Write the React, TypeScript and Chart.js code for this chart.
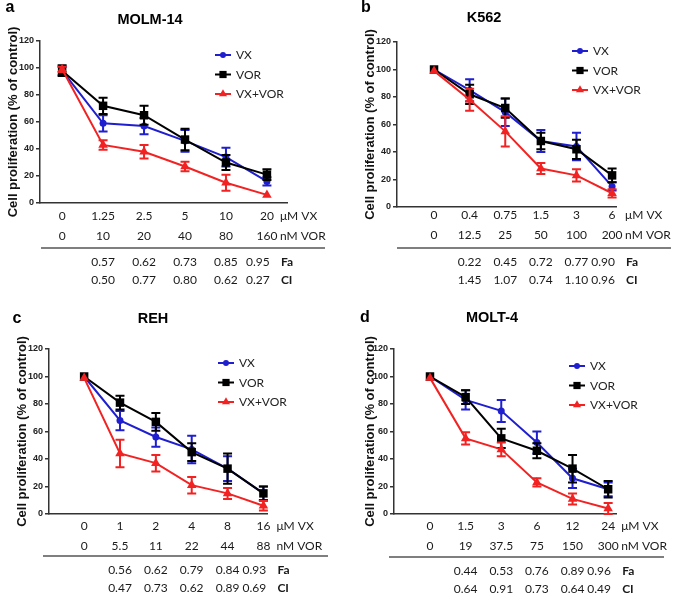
import React, { useEffect, useRef } from 'react';
import { Chart, registerables } from 'chart.js';
Chart.register(...registerables);

const seriesNames = ['VX', 'VOR', 'VX+VOR'];
const seriesColors = ['#1f1fd0', '#000000', '#f22222'];
const seriesShapes = ['circle', 'rect', 'triangle'];
const seriesRadius = [3.5, 6, 5.5];
const yTickValues = [0, 20, 40, 60, 80, 100, 120];

// a: MOLM-14
const molmVxDose = ['0', '1.25', '2.5', '5', '10', '20'];
const molmVorDose = ['0', '10', '20', '40', '80', '160'];
const molmVX = [98, 59, 57, 46, 34, 16];
const molmVXErr = [3, 6, 6, 8, 7, 3];
const molmVOR = [98, 72, 65, 47, 30, 21];
const molmVORErr = [4, 6, 7, 8, 5.5, 4];
const molmCombo = [99, 43, 38, 27, 15, 6];
const molmComboErr = [2, 3.5, 5, 3.5, 6, 1];
const molmFa = ['0.57', '0.62', '0.73', '0.85', '0.95'];
const molmCI = ['0.50', '0.77', '0.80', '0.62', '0.27'];

// b: K562
const k562VxDose = ['0', '0.4', '0.75', '1.5', '3', '6'];
const k562VorDose = ['0', '12.5', '25', '50', '100', '200'];
const k562VX = [100, 85, 69, 48, 44, 15];
const k562VXErr = [1, 8, 10, 8, 10, 3];
const k562VOR = [100, 82, 72, 48, 42, 23];
const k562VORErr = [1, 7, 7, 6, 7, 5];
const k562Combo = [99, 78, 55, 28, 23, 10];
const k562ComboErr = [1, 8, 11, 4, 4.5, 3];
const k562Fa = ['0.22', '0.45', '0.72', '0.77', '0.90'];
const k562CI = ['1.45', '1.07', '0.74', '1.10', '0.96'];

// c: REH
const rehVxDose = ['0', '1', '2', '4', '8', '16'];
const rehVorDose = ['0', '5.5', '11', '22', '44', '88'];
const rehVX = [100, 68, 56, 47, 33, 15];
const rehVXErr = [1, 7, 7, 10, 9, 5];
const rehVOR = [100, 81, 67, 45, 33, 15];
const rehVORErr = [1, 5, 6.5, 6.5, 11, 5];
const rehCombo = [99, 44, 37, 21, 15, 6];
const rehComboErr = [1, 10, 6, 6, 4, 3.5];
const rehFa = ['0.56', '0.62', '0.79', '0.84', '0.93'];
const rehCI = ['0.47', '0.73', '0.62', '0.89', '0.69'];

// d: MOLT-4
const moltVxDose = ['0', '1.5', '3', '6', '12', '24'];
const moltVorDose = ['0', '19', '37.5', '75', '150', '300'];
const moltVX = [100, 83, 75, 52, 26, 18];
const moltVXErr = [1, 7, 8, 8, 7, 5];
const moltVOR = [100, 85, 55, 46, 33, 18];
const moltVORErr = [1, 5, 7, 5.5, 10, 6];
const moltCombo = [99, 55, 47, 23, 11, 4];
const moltComboErr = [1, 4.5, 5, 3, 4, 4];
const moltFa = ['0.44', '0.53', '0.76', '0.89', '0.96'];
const moltCI = ['0.64', '0.91', '0.73', '0.64', '0.49'];

const panels = [
  {
    letter: 'a', title: 'MOLM-14', vxDose: molmVxDose, vorDose: molmVorDose,
    series: [molmVX, molmVOR, molmCombo], errors: [molmVXErr, molmVORErr, molmComboErr],
    fa: molmFa, ci: molmCI,
    left: 0, top: 0, width: 339, height: 299,
    padL: 0, yW: 40, padR: 52, padT: 41, xH: 46, padB: 50,
    xMin: -0.54, xMax: 5.49, tickPad: 3,
    titleX: 150, titleY: 20, letterX: 10, letterY: 8,
    legendX: 215, legendY: 55, ruleY: 248, ruleX0: 41, ruleX1: 325,
  },
  {
    letter: 'b', title: 'K562', vxDose: k562VxDose, vorDose: k562VorDose,
    series: [k562VX, k562VOR, k562Combo], errors: [k562VXErr, k562VORErr, k562ComboErr],
    fa: k562Fa, ci: k562CI,
    left: 339, top: 0, width: 340, height: 299,
    padL: 18, yW: 40, padR: 63, padT: 42, xH: 46, padB: 46,
    xMin: -1.04, xMax: 5.11, tickPad: -2,
    titleX: 145, titleY: 18, letterX: 27, letterY: 8,
    legendX: 233, legendY: 51, ruleY: 248, ruleX0: 58, ruleX1: 332,
  },
  {
    letter: 'c', title: 'REH', vxDose: rehVxDose, vorDose: rehVorDose,
    series: [rehVX, rehVOR, rehCombo], errors: [rehVXErr, rehVORErr, rehComboErr],
    fa: rehFa, ci: rehCI,
    left: 0, top: 300, width: 339, height: 299,
    padL: 9, yW: 40, padR: 72, padT: 49, xH: 46, padB: 39,
    xMin: -0.98, xMax: 5.1, tickPad: 2,
    titleX: 153, titleY: 19, letterX: 17, letterY: 19,
    legendX: 218, legendY: 63, ruleY: 256, ruleX0: 43, ruleX1: 328,
  },
  {
    letter: 'd', title: 'MOLT-4', vxDose: moltVxDose, vorDose: moltVorDose,
    series: [moltVX, moltVOR, moltCombo], errors: [moltVXErr, moltVORErr, moltComboErr],
    fa: moltFa, ci: moltCI,
    left: 339, top: 300, width: 340, height: 299,
    padL: 18, yW: 37, padR: 63, padT: 49, xH: 46, padB: 39,
    xMin: -1.01, xMax: 5.22, tickPad: 2,
    titleX: 153, titleY: 18, letterX: 26, letterY: 18,
    legendX: 230, legendY: 66, ruleY: 257, ruleX0: 50, ruleX1: 325,
  },
];

const TICK_FONT = 'Lato, "Open sans", sans-serif';
const ARIAL = '"Liberation Sans", Arial, sans-serif';
const LINE_H = 20;

function drawMarker(ctx: CanvasRenderingContext2D, shape: string, x: number, y: number, r: number, color: string) {
  ctx.save();
  ctx.fillStyle = color;
  ctx.beginPath();
  if (shape === 'circle') {
    ctx.arc(x, y, r, 0, Math.PI * 2);
  } else if (shape === 'rect') {
    const s = r * Math.SQRT1_2;
    ctx.rect(x - s, y - s, 2 * s, 2 * s);
  } else {
    let rad = 0;
    ctx.moveTo(x + Math.sin(rad) * r, y - Math.cos(rad) * r);
    rad += (2 * Math.PI) / 3;
    ctx.lineTo(x + Math.sin(rad) * r, y - Math.cos(rad) * r);
    rad += (2 * Math.PI) / 3;
    ctx.lineTo(x + Math.sin(rad) * r, y - Math.cos(rad) * r);
    ctx.closePath();
  }
  ctx.fill();
  ctx.restore();
}

const errorBarPlugin = {
  id: 'errorBars',
  beforeDatasetDraw(chart: any, args: any) {
    const ds = chart.data.datasets[args.index];
    const errs = ds.errors as number[] | undefined;
    if (!errs) return;
    const ys = chart.scales.y;
    const ctx = chart.ctx as CanvasRenderingContext2D;
    ctx.save();
    ctx.strokeStyle = ds.borderColor;
    ctx.lineWidth = 2;
    args.meta.data.forEach((pt: any, i: number) => {
      const e = errs[i];
      if (!e || e < 1.5) return;
      const v = ds.data[i].y;
      const x = pt.x;
      const y1 = ys.getPixelForValue(v + e);
      const y2 = ys.getPixelForValue(v - e);
      ctx.beginPath();
      ctx.moveTo(x, y1); ctx.lineTo(x, y2);
      ctx.moveTo(x - 4.5, y1); ctx.lineTo(x + 4.5, y1);
      ctx.moveTo(x - 4.5, y2); ctx.lineTo(x + 4.5, y2);
      ctx.stroke();
    });
    ctx.restore();
  },
};

function makeDecoPlugin(p: any) {
  return {
    id: 'deco',
    afterDraw(chart: any) {
      const ctx = chart.ctx as CanvasRenderingContext2D;
      const xs = chart.scales.x;
      const area = chart.chartArea;
      ctx.save();
      // letter
      ctx.fillStyle = '#000';
      ctx.font = `bold 16px ${ARIAL}`;
      ctx.textAlign = 'center';
      ctx.textBaseline = 'middle';
      ctx.fillText(p.letter, p.letterX, p.letterY);
      // title
      ctx.font = `bold 14.5px ${ARIAL}`;
      ctx.fillText(p.title, p.titleX, p.titleY);
      // legend
      ctx.font = `12px ${TICK_FONT}`;
      ctx.textAlign = 'left';
      seriesNames.forEach((name, i) => {
        const y = p.legendY + i * 19.5;
        ctx.strokeStyle = seriesColors[i];
        ctx.lineWidth = 2;
        ctx.beginPath();
        ctx.moveTo(p.legendX, y);
        ctx.lineTo(p.legendX + 16, y);
        ctx.stroke();
        drawMarker(ctx, seriesShapes[i], p.legendX + 8, y, seriesRadius[i] * 0.85, seriesColors[i]);
        ctx.fillStyle = '#222';
        ctx.fillText(name, p.legendX + 21, y + 0.5);
      });
      // units next to dose ticks
      const lastX = xs.getPixelForValue(5) + 13;
      const row1 = area.bottom + p.tickPad + LINE_H / 2;
      ctx.fillStyle = '#1a1a1a';
      ctx.font = `12px ${TICK_FONT}`;
      ctx.textAlign = 'left';
      ctx.fillText('μM VX', lastX, row1);
      ctx.fillText('nM VOR', lastX, row1 + LINE_H);
      // rule
      ctx.strokeStyle = '#555';
      ctx.lineWidth = 1.5;
      ctx.beginPath();
      ctx.moveTo(p.ruleX0, p.ruleY);
      ctx.lineTo(p.ruleX1, p.ruleY);
      ctx.stroke();
      // table
      ctx.textAlign = 'center';
      const faY = p.ruleY + 14;
      const ciY = p.ruleY + 32;
      p.fa.forEach((v: string, i: number) => {
        const x = xs.getPixelForValue(i + 1) - (i === p.fa.length - 1 ? 9 : 0);
        ctx.fillText(v, x, faY);
        ctx.fillText(p.ci[i], x, ciY);
      });
      ctx.textAlign = 'left';
      ctx.font = `bold 12px ${TICK_FONT}`;
      ctx.fillText('Fa', lastX + 1, faY);
      ctx.fillText('CI', lastX + 1, ciY);
      ctx.restore();
    },
  };
}

function Panel({ p }: { p: any }) {
  const ref = useRef<HTMLCanvasElement | null>(null);
  useEffect(() => {
    if (!ref.current) return;
    const datasets = seriesNames.map((name, si) => ({
      label: name,
      data: p.series[si].map((y: number, i: number) => ({ x: i, y })),
      errors: p.errors[si],
      borderColor: seriesColors[si],
      backgroundColor: seriesColors[si],
      borderWidth: 2,
      pointStyle: seriesShapes[si],
      pointRadius: seriesRadius[si],
      pointBorderWidth: 0,
      tension: 0,
      clip: false,
      order: 3 - si,
    }));
    const chart = new Chart(ref.current, {
      type: 'line',
      data: { datasets } as any,
      plugins: [errorBarPlugin, makeDecoPlugin(p)],
      options: {
        animation: false,
        responsive: false,
        maintainAspectRatio: false,
        events: [],
        layout: { padding: { left: p.padL, right: p.padR, top: p.padT, bottom: p.padB } },
        plugins: { legend: { display: false }, tooltip: { enabled: false }, title: { display: false } },
        scales: {
          x: {
            type: 'linear',
            min: p.xMin,
            max: p.xMax,
            afterBuildTicks: (s: any) => {
              s.ticks = p.vxDose.map((_: string, i: number) => ({ value: i }));
            },
            afterFit: (s: any) => {
              s.height = p.xH;
              s.paddingLeft = 0;
              s.paddingRight = 0;
            },
            grid: { display: false, drawTicks: false, tickLength: 0 },
            border: { display: true, color: '#333', width: 1.5 },
            ticks: {
              autoSkip: false,
              maxRotation: 0,
              minRotation: 0,
              padding: p.tickPad,
              color: '#1a1a1a',
              font: { family: TICK_FONT, size: 12, lineHeight: `${LINE_H}px` } as any,
              callback: (_v: any, i: number) => [p.vxDose[i], p.vorDose[i]],
            },
          },
          y: {
            type: 'linear',
            min: 0,
            max: 120,
            afterBuildTicks: (s: any) => {
              s.ticks = yTickValues.map((v) => ({ value: v }));
            },
            afterFit: (s: any) => {
              s.width = p.yW;
              s.paddingTop = 0;
              s.paddingBottom = 0;
            },
            grid: { display: true, drawOnChartArea: false, drawTicks: true, tickLength: 4, color: '#333', lineWidth: 1.5 },
            border: { display: true, color: '#333', width: 1.5 },
            ticks: {
              padding: 2,
              color: '#222',
              font: { family: ARIAL, size: 9, weight: 'bold' },
            },
            title: {
              display: true,
              text: 'Cell proliferation (% of control)',
              color: '#111',
              font: { family: ARIAL, size: 13, weight: 'bold' },
              padding: { top: 6, bottom: 0 },
            },
          },
        },
      } as any,
    });
    return () => chart.destroy();
  }, [p]);
  return (
    <canvas
      ref={ref}
      width={p.width}
      height={p.height}
      style={{ position: 'absolute', left: p.left, top: p.top, width: p.width, height: p.height }}
    />
  );
}

export default function App() {
  return (
    <div style={{ position: 'fixed', left: 0, top: 0, width: 679, height: 599, background: '#fff', overflow: 'hidden' }}>
      {panels.map((p) => (
        <Panel key={p.letter} p={p} />
      ))}
    </div>
  );
}
